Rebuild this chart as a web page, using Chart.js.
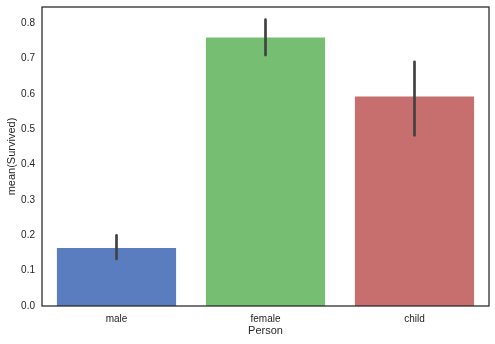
<!DOCTYPE html>
<html lang="en">
<head>
    <meta charset="UTF-8">
    <title>mean(Survived) by Person</title>
    <script src="https://cdn.jsdelivr.net/npm/chart.js/dist/chart.umd.min.js"></script>
    <style>
        html, body { margin: 0; padding: 0; background: #fff; }
        #wrap { width: 495px; height: 344px; }
    </style>
</head>
<body>
<div id="wrap"><canvas id="barChart" width="495" height="344"></canvas></div>
<script>
// data
const persons = ["male", "female", "child"];
const meanSurvived = [0.164, 0.760, 0.593];
const ciLow = [0.133, 0.710, 0.483];
const ciHigh = [0.200, 0.810, 0.691];
const yTicks = [0.0, 0.1, 0.2, 0.3, 0.4, 0.5, 0.6, 0.7, 0.8];
const barColors = ["#597DBE", "#76BF72", "#C76E6E"];

const textColor = "#262626";
const fontFamily = "'Liberation Sans', Arial, sans-serif";

// draws the confidence interval lines on top of each bar
const errorBars = {
    id: "errorBars",
    afterDatasetsDraw(chart) {
        const ctx = chart.ctx;
        const meta = chart.getDatasetMeta(0);
        const y = chart.scales.y;
        ctx.save();
        ctx.strokeStyle = "#424242";
        ctx.lineWidth = 2.7;
        ctx.lineCap = "round";
        meta.data.forEach((bar, i) => {
            ctx.beginPath();
            ctx.moveTo(bar.x, y.getPixelForValue(ciLow[i]));
            ctx.lineTo(bar.x, y.getPixelForValue(ciHigh[i]));
            ctx.stroke();
        });
        ctx.restore();
    }
};

// box around the plot area
const frame = {
    id: "frame",
    afterDraw(chart) {
        const a = chart.chartArea;
        const ctx = chart.ctx;
        ctx.save();
        ctx.strokeStyle = textColor;
        ctx.lineWidth = 1.25;
        ctx.strokeRect(a.left, a.top, a.right - a.left, a.bottom - a.top);
        ctx.restore();
    }
};

new Chart(document.getElementById("barChart").getContext("2d"), {
    type: "bar",
    data: {
        labels: persons,
        datasets: [{
            data: meanSurvived,
            backgroundColor: barColors,
            borderWidth: 0,
            categoryPercentage: 0.8,
            barPercentage: 1.0
        }]
    },
    options: {
        responsive: false,
        animation: false,
        events: [],
        layout: { padding: { top: 7, right: 6, left: 0, bottom: 0 } },
        plugins: {
            legend: { display: false },
            tooltip: { enabled: false }
        },
        scales: {
            x: {
                offset: true,
                grid: { display: false, drawTicks: false },
                border: { display: false },
                ticks: {
                    color: textColor,
                    padding: 7,
                    font: { family: fontFamily, size: 10 }
                },
                title: {
                    display: true,
                    text: "Person",
                    color: textColor,
                    padding: { top: 0, bottom: 6 },
                    font: { family: fontFamily, size: 11 }
                },
                afterFit(scale) {
                    scale.height = 38;
                    scale.paddingLeft = 0;
                    scale.paddingRight = 0;
                }
            },
            y: {
                min: 0,
                max: 0.846,
                grid: { display: false, drawTicks: false },
                border: { display: false },
                afterBuildTicks(scale) {
                    scale.ticks = yTicks.map(v => ({ value: v }));
                },
                ticks: {
                    color: textColor,
                    padding: 7,
                    font: { family: fontFamily, size: 10 },
                    callback: v => v.toFixed(1)
                },
                title: {
                    display: true,
                    text: "mean(Survived)",
                    color: textColor,
                    padding: { top: 5, bottom: 0 },
                    font: { family: fontFamily, size: 11 }
                },
                afterFit(scale) {
                    scale.width = 42;
                    scale.paddingTop = 0;
                    scale.paddingBottom = 0;
                }
            }
        }
    },
    plugins: [errorBars, frame]
});
</script>
</body>
</html>
